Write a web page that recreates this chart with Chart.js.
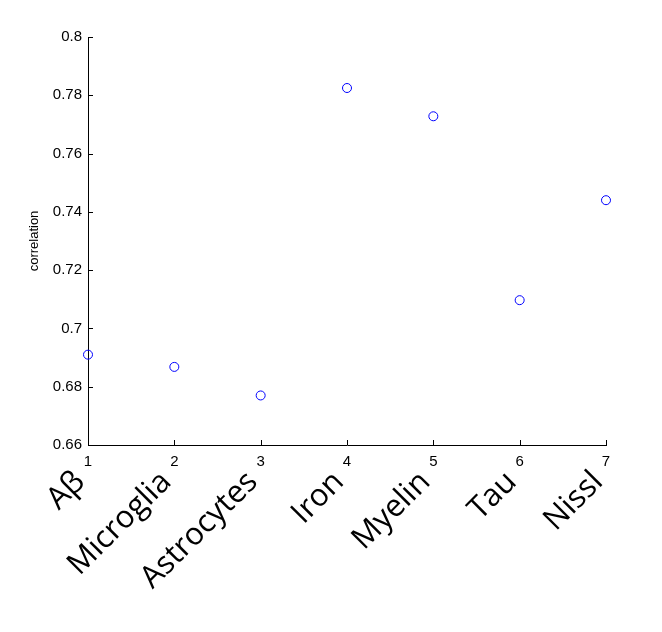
<!DOCTYPE html>
<html>
<head>
<meta charset="utf-8">
<script src="https://cdn.jsdelivr.net/npm/chart.js@4"></script>
<style>
  html, body { margin:0; padding:0; background:#fff; }
  canvas { display:block; }
</style>
</head>
<body>
<canvas id="chart" width="662" height="632"></canvas>
<script>
// data
const markers = ['A\u03b2','Microglia','Astrocytes','Iron','Myelin','Tau','Nissl'];
const positions = [1,2,3,4,5,6,7];
const correlation = [0.6910,0.6868,0.6770,0.7825,0.7728,0.7097,0.7440];
const yTicks = [0.66,0.68,0.70,0.72,0.74,0.76,0.78,0.80];

// matlab style: ticks point into the axes
const inwardTicks = {
  id:'inwardTicks',
  afterDraw(chart){
    const {ctx, scales:{x, y}} = chart;
    ctx.save();
    ctx.strokeStyle = '#000';
    ctx.lineWidth = 1;
    ctx.beginPath();
    x.ticks.forEach(t=>{
      const px = Math.round(x.getPixelForValue(t.value)) + 0.5;
      ctx.moveTo(px, y.bottom);
      ctx.lineTo(px, y.bottom - 5);
    });
    y.ticks.forEach(t=>{
      const py = Math.round(y.getPixelForValue(t.value)) + 0.5;
      ctx.moveTo(x.left, py);
      ctx.lineTo(x.left + 5, py);
    });
    ctx.stroke();
    ctx.restore();
  }
};

// big rotated names under the numeric ticks
const markerNames = {
  id:'markerNames',
  afterDraw(chart){
    const {ctx, scales:{x}} = chart;
    ctx.save();
    ctx.fillStyle = '#000';
    ctx.font = '31px "Open Sans", sans-serif';
    ctx.textAlign = 'right';
    ctx.textBaseline = 'middle';
    markers.forEach((name,i)=>{
      const px = x.getPixelForValue(positions[i]);
      ctx.save();
      ctx.translate(px - 8, 477);
      ctx.rotate(-Math.PI/4);
      ctx.fillText(name, 0, 0);
      ctx.restore();
    });
    ctx.restore();
  }
};

new Chart(document.getElementById('chart'), {
  type:'scatter',
  data:{
    datasets:[{
      data: positions.map((p,i)=>({x:p, y:correlation[i]})),
      pointStyle:'circle',
      pointRadius:4.5,
      pointBorderWidth:1,
      pointBorderColor:'#0000ff',
      pointBackgroundColor:'rgba(0,0,0,0)',
      clip:false
    }]
  },
  options:{
    responsive:false,
    animation:false,
    layout:{ padding:{ top:37, right:56, left:0, bottom:0 } },
    plugins:{ legend:{display:false}, tooltip:{enabled:false} },
    scales:{
      x:{
        type:'linear', min:1, max:7,
        afterFit: s => { s.height = 187; },
        afterBuildTicks: s => { s.ticks = positions.map(v=>({value:v})); },
        grid:{ drawOnChartArea:false, drawTicks:false },
        border:{ color:'#000', width:1 },
        ticks:{ padding:8, color:'#000', maxRotation:0, font:{family:'Arial, "Liberation Sans"', size:15} }
      },
      y:{
        min:0.66, max:0.8,
        afterFit: s => { s.width = 88; },
        afterBuildTicks: s => { s.ticks = yTicks.map(v=>({value:v})); },
        grid:{ drawOnChartArea:false, drawTicks:false },
        border:{ color:'#000', width:1 },
        ticks:{ padding:6, color:'#000', font:{family:'Arial, "Liberation Sans"', size:15},
          callback: v => String(+v.toFixed(2)) },
        title:{ display:true, text:'correlation', color:'#000',
          font:{family:'Arial, "Liberation Sans"', size:13}, padding:{top:27, bottom:0} }
      }
    }
  },
  plugins:[inwardTicks, markerNames]
});
</script>
</body>
</html>
